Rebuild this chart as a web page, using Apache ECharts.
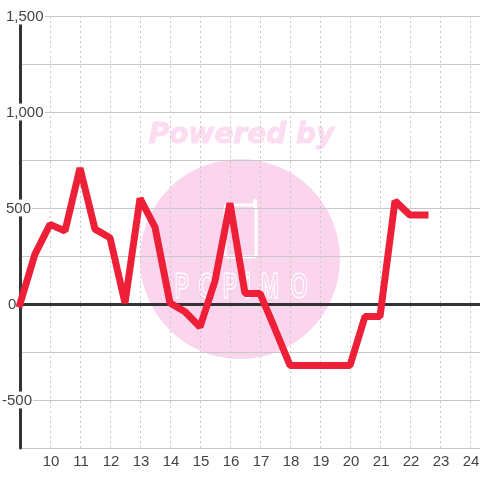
<!DOCTYPE html>
<html>
<head>
<meta charset="utf-8">
<style>html,body{margin:0;padding:0;background:#fff}#chart{width:480px;height:480px}</style>
<script src="https://cdn.jsdelivr.net/npm/echarts@6/dist/echarts.min.js"></script>
</head>
<body>
<div id="chart"></div>
<script>
// half-hour steps from 9:00
const hours = [9, 9.5, 10, 10.5, 11, 11.5, 12, 12.5, 13, 13.5, 14, 14.5, 15, 15.5, 16, 16.5, 17, 17.5, 18, 18.5, 19, 19.5, 20, 20.5, 21, 21.5, 22, 22.5];
const values = [0, 260, 415, 380, 708, 390, 345, 5, 550, 400, 5, -40, -120, 120, 525, 55, 55, -130, -320, -320, -320, -320, -320, -65, -65, 537, 463, 463];
const labelledTicks = [-500, 0, 500, 1000, 1500];

const chart = echarts.init(document.getElementById('chart'), null, { renderer: 'canvas' });

const textColor = '#444';
const font = 'Liberation Sans';
const logoPink = '#fbd5ee';

function yLabel(v) {
  if (labelledTicks.indexOf(v) < 0) return '';
  const s = v.toLocaleString('en-US');
  if (v < 0) return '{neg|' + s + '}';
  if (v === 0) return '{zero|' + s + '}';
  return '{pos|' + s + '}';
}

const labelRich = {
  neg: { fontSize: 15, fontFamily: font, color: textColor, backgroundColor: '#fff', padding: [2, 1, 0, 0] },
  zero: { fontSize: 15, fontFamily: font, color: textColor, backgroundColor: '#fff', padding: [2, 1, 0, 6] },
  pos: { fontSize: 15, fontFamily: font, color: textColor, backgroundColor: '#fff', padding: [2, 1, 0, 4] }
};

// watermark logo letters, each drawn on its own because of the wide spacing
const logoLetters = [['P', 182], ['O', 207], ['P', 230], ['i', 248], ['M', 270], ['O', 299]];

const option = {
  animation: false,
  backgroundColor: '#fff',
  grid: { left: 20, right: 0, top: 16, bottom: 32, outerBoundsMode: 'none' },
  graphic: [
    { type: 'circle', z: -1, shape: { cx: 240, cy: 259, r: 100 }, style: { fill: logoPink } },
    { type: 'text', z: -1, x: 241.5, y: 136, style: { text: 'Powered by', fill: '#fcdcf0', stroke: '#fcdcf0', lineWidth: 1, font: 'italic bold 28px "DejaVu Sans"', textAlign: 'center', textVerticalAlign: 'middle' } },
    { type: 'rect', z: -1, shape: { x: 225, y: 205, width: 31, height: 52, r: 3 }, style: { fill: 'none', stroke: '#fff', lineWidth: 3 } },
    { type: 'line', z: -1, shape: { x1: 255, y1: 201, x2: 255, y2: 206 }, style: { stroke: '#fff', lineWidth: 4, lineCap: 'round' } }
  ].concat(logoLetters.map(l => ({
    type: 'text', z: -1, x: l[1], y: 288, scaleX: 0.8, scaleY: 1.25,
    style: { text: l[0], fill: logoPink, stroke: '#fff', lineWidth: 2.5, font: '26px "Liberation Sans"', textAlign: 'center', textVerticalAlign: 'middle' }
  }))),
  xAxis: [
    {
      type: 'value', min: 9, max: 24.3333, interval: 1, position: 'bottom',
      axisLine: { show: false, onZero: false },
      axisTick: { show: false },
      axisLabel: { color: textColor, fontSize: 15, fontFamily: font, margin: 6, padding: [0, 0, 0, 2], showMinLabel: false, showMaxLabel: false },
      splitLine: { show: true, showMinLine: false, showMaxLine: false, lineStyle: { color: '#c8c8c8', type: [2, 3], width: 1 } }
    },
    {
      // dark zero line, labels stay on the bottom axis
      type: 'value', min: 9, max: 24.3333, interval: 1, position: 'bottom',
      axisLine: { show: true, onZero: true, lineStyle: { color: '#333', width: 3 } },
      axisTick: { show: false }, axisLabel: { show: false }, splitLine: { show: false }
    }
  ],
  yAxis: {
    type: 'value', min: -750, max: 1500, interval: 250,
    axisLine: { show: true, onZero: false, lineStyle: { color: '#333', width: 3 } },
    axisTick: { show: false },
    axisLabel: { align: 'left', margin: 18, formatter: yLabel, rich: labelRich },
    splitLine: { show: true, lineStyle: { color: '#c8c8c8', width: 1 } }
  },
  series: [{
    type: 'line',
    data: hours.map((h, i) => [h, values[i]]),
    showSymbol: false,
    clip: false,
    lineStyle: { color: '#ee2038', width: 7, join: 'bevel', cap: 'square' }
  }]
};
chart.setOption(option);
</script>
</body>
</html>
